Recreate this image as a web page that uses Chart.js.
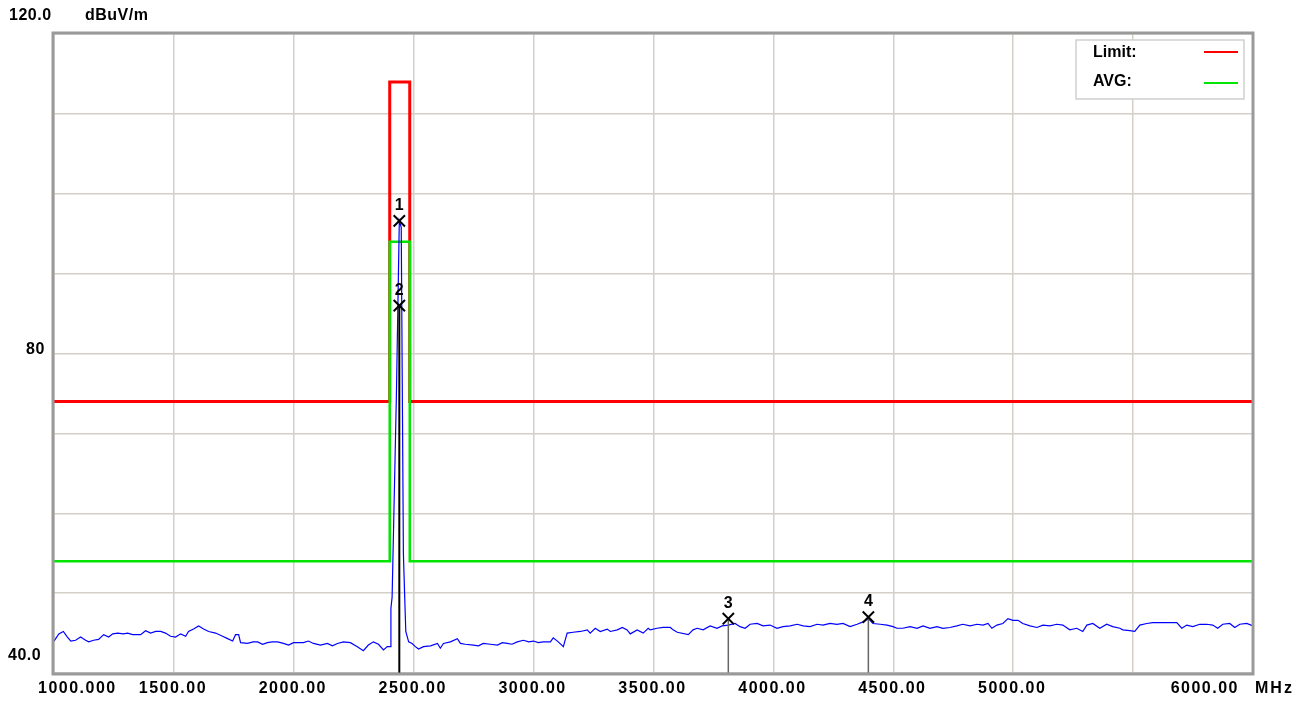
<!DOCTYPE html>
<html>
<head>
<meta charset="utf-8">
<script src="https://cdn.jsdelivr.net/npm/chart.js@4/dist/chart.umd.min.js"></script>
<style>
  html, body { margin: 0; padding: 0; background: #fff; }
  #wrap { width: 1306px; height: 702px; }
</style>
</head>
<body>
<div id="wrap"><canvas id="scan" width="1306" height="702"></canvas></div>
<script>
// measured trace (MHz, dBuV/m)
const freqMHz = [1000,1020,1039,1056,1070,1090,1111,1132,1145,1165,1186,1207,1228,1245,1266,1290,1307,1328,1361,1382,1403,1424,1445,1465,1486,1507,1528,1549,1561,1582,1603,1624,1645,1674,1703,1724,1745,1757,1770,1778,1807,1830,1849,1870,1890,1910,1932,1957,1978,1999,2020,2040,2061,2082,2111,2140,2161,2182,2207,2236,2265,2290,2311,2332,2353,2374,2390,2403,2405,2410,2428,2440,2448,2457,2462,2467,2479,2493,2507,2520,2541,2570,2599,2611,2624,2653,2682,2695,2715,2749,2770,2790,2820,2849,2870,2890,2910,2932,2957,2980,2999,3020,3040,3070,3082,3103,3124,3140,3165,3195,3224,3236,3257,3278,3307,3320,3349,3370,3390,3403,3432,3457,3478,3486,3515,3540,3570,3582,3599,3645,3665,3682,3707,3736,3765,3786,3812,3840,3861,3882,3903,3932,3957,3986,4015,4040,4070,4099,4124,4153,4182,4207,4236,4265,4290,4320,4349,4374,4396,4415,4445,4474,4499,4515,4540,4570,4599,4624,4653,4682,4707,4736,4765,4790,4820,4849,4874,4895,4911,4932,4957,4978,4999,5020,5040,5070,5099,5124,5153,5182,5207,5236,5265,5290,5307,5332,5361,5390,5415,5445,5457,5486,5507,5528,5557,5582,5640,5682,5703,5724,5749,5778,5807,5832,5853,5874,5903,5924,5945,5974,6000];
const levelDb = [44.0,44.9,45.2,44.5,44.0,44.1,44.5,44.1,43.9,44.1,44.2,44.8,44.5,44.9,45.0,44.9,45.0,44.8,44.8,45.3,45.0,45.2,45.2,45.0,44.6,44.5,44.9,44.6,45.2,45.5,45.9,45.5,45.2,45.0,44.6,44.3,44.0,44.8,44.8,43.8,43.7,43.9,43.9,43.6,43.8,43.9,43.9,43.7,43.5,43.8,43.8,43.8,44.0,43.7,43.5,43.7,43.4,43.7,43.9,43.8,43.3,42.8,43.5,43.9,43.6,42.9,43.3,43.3,48.1,49.5,75,96.6,95.8,55,50,45.2,43.9,43.7,43.3,43.0,43.3,43.4,43.7,43.1,43.7,43.9,44.3,43.7,43.6,43.5,43.4,43.7,43.6,43.5,43.8,43.7,43.6,43.9,44.1,43.9,44.0,43.8,43.9,43.9,44.4,43.9,43.3,45.0,45.1,45.2,45.4,45.0,45.6,45.2,45.5,45.2,45.4,45.7,45.4,44.9,45.4,45.0,45.6,45.4,45.6,45.7,45.7,45.4,45.1,44.8,45.4,45.6,45.4,45.9,45.6,45.9,46.0,46.2,45.8,45.6,46.1,46.2,45.9,46.0,45.6,45.8,45.9,46.1,45.9,45.8,46.1,46.0,46.2,46.1,46.2,45.8,46.1,46.4,46.8,46.2,46.1,46.0,45.8,45.6,45.6,45.8,45.6,45.9,45.6,45.8,45.6,45.7,45.9,46.1,45.9,46.1,46.0,46.2,45.6,46.0,46.2,46.8,46.6,46.6,46.2,45.9,45.7,46.0,45.9,46.1,46.0,45.4,45.6,45.2,46.0,46.2,45.6,46.1,45.8,45.6,45.4,45.3,45.2,46.0,46.2,46.3,46.3,46.3,45.6,46.0,45.8,46.1,46.1,46.0,45.6,46.1,46.2,45.7,46.1,46.2,45.9];

// limit lines
const limitFreq = [1000, 2400, 2400, 2483.5, 2483.5, 6000];
const limitDb = [74, 74, 114, 114, 74, 74];
const avgFreq = [1000, 2400, 2400, 2483.5, 2483.5, 6000];
const avgDb = [54, 54, 94, 94, 54, 54];

// markers
const markerNames = ['1', '2', '3', '4'];
const markerFreq = [2440, 2440, 3812, 4396];
const markerDb = [96.6, 86.0, 46.8, 47.0];

// axis labels
const xTickValues = [1000, 1500, 2000, 2500, 3000, 3500, 4000, 4500, 5000, 6000];
const xTickText = ['1000.000', '1500.00', '2000.00', '2500.00', '3000.00', '3500.00', '4000.00', '4500.00', '5000.00', '6000.00'];
const yTickValues = [120, 80, 40];
const yTickText = ['120.0', '80', '40.0'];

const pts = (xs, ys) => xs.map((v, i) => ({x: v, y: ys[i]}));

const dropLines = [];
markerFreq.forEach((f, i) => {
    if (i === 0) return; // marker 1 shares the line of marker 2
    dropLines.push({
        data: [{x: f, y: markerDb[i]}, {x: f, y: 40}],
        borderColor: i < 2 ? '#000' : '#666',
        borderWidth: i < 2 ? 2 : 1.5,
        pointRadius: 0
    });
});

const overlay = {
    id: 'overlay',
    afterDatasetsDraw(chart) {
        const {ctx, chartArea: a, scales: {x, y}} = chart;
        ctx.save();

        // frame
        ctx.strokeStyle = '#9a9a9a';
        ctx.lineWidth = 3;
        ctx.strokeRect(a.left - 1, a.top - 1, a.right - a.left + 1, a.bottom - a.top + 2);

        // marker numbers
        ctx.fillStyle = '#000';
        ctx.font = 'bold 16px "Liberation Sans", Arial, sans-serif';
        ctx.textAlign = 'center';
        ctx.textBaseline = 'middle';
        markerNames.forEach((n, i) => {
            ctx.fillText(n, x.getPixelForValue(markerFreq[i]), y.getPixelForValue(markerDb[i]) - 15);
        });

        // legend
        const lx = a.right - 177, ly = a.top + 6;
        ctx.fillStyle = '#fff';
        ctx.fillRect(lx, ly, 168, 59);
        ctx.strokeStyle = '#cfcfcf';
        ctx.lineWidth = 1.5;
        ctx.strokeRect(lx, ly, 168, 59);
        ctx.font = 'bold 16px "Liberation Sans", Arial, sans-serif';
        ctx.textAlign = 'left';
        [0, 1].forEach(k => {
            const ds = chart.data.datasets[chart.data.datasets.length - 1 - k];
            const ty = ly + 13 + k * 29;
            ctx.fillStyle = '#000';
            ctx.fillText(ds.label + ':', lx + 17, ty);
            ctx.strokeStyle = ds.borderColor;
            ctx.lineWidth = 2;
            ctx.beginPath();
            ctx.moveTo(lx + 128, ty - 1 + k * 2);
            ctx.lineTo(lx + 162, ty - 1 + k * 2);
            ctx.stroke();
        });

        // x tick labels
        ctx.fillStyle = '#000';
        ctx.font = 'bold 16px "Liberation Sans", Arial, sans-serif';
        ctx.letterSpacing = '1.5px';
        const last = xTickValues.length - 1;
        xTickValues.forEach((v, i) => {
            const px = x.getPixelForValue(v);
            if (i === 0) { ctx.textAlign = 'left'; ctx.fillText(xTickText[i], px - 16, 689); }
            else if (i === last) { ctx.textAlign = 'right'; ctx.fillText(xTickText[i], px - 14, 689); }
            else { ctx.textAlign = 'center'; ctx.fillText(xTickText[i], px - 1, 689); }
        });
        ctx.textAlign = 'left';
        ctx.letterSpacing = '2px';
        ctx.fillText('MHz', a.right + 2, 689);

        // y tick labels and unit
        ctx.letterSpacing = '0.5px';
        const yOff = [-18, -4, -17];
        const yLeft = [9, 26, 8];
        yTickValues.forEach((v, i) => {
            ctx.fillText(yTickText[i], yLeft[i], y.getPixelForValue(v) + yOff[i]);
        });
        ctx.fillText('dBuV/m', 85, 16);
        ctx.restore();
    }
};

new Chart(document.getElementById('scan'), {
    type: 'line',
    data: {
        datasets: [
            {
                data: pts(markerFreq, markerDb),
                showLine: false,
                pointStyle: 'crossRot',
                pointRadius: 8,
                pointBorderColor: '#000',
                pointBorderWidth: 2
            },
            ...dropLines,
            {
                data: pts(freqMHz, levelDb),
                borderColor: '#0000ff',
                borderWidth: 1.2,
                pointRadius: 0
            },
            {
                label: 'AVG',
                data: pts(avgFreq, avgDb),
                borderColor: '#00e600',
                borderWidth: 2.5,
                pointRadius: 0
            },
            {
                label: 'Limit',
                data: pts(limitFreq, limitDb),
                borderColor: '#ff0000',
                borderWidth: 3,
                pointRadius: 0
            }
        ]
    },
    options: {
        responsive: false,
        animation: false,
        devicePixelRatio: 1,
        layout: {padding: {top: 34, right: 53, left: 0, bottom: 0}},
        plugins: {legend: {display: false}, tooltip: {enabled: false}},
        elements: {line: {tension: 0}},
        scales: {
            x: {
                type: 'linear',
                min: 1000,
                max: 6000,
                ticks: {stepSize: 500, display: false},
                grid: {color: '#d4d0c8', lineWidth: 1.5, drawTicks: false},
                border: {display: false},
                afterFit: s => { s.height = 29; }
            },
            y: {
                min: 40,
                max: 120,
                ticks: {stepSize: 10, display: false},
                grid: {color: '#d4d0c8', lineWidth: 1.5, drawTicks: false},
                border: {display: false},
                afterFit: s => { s.width = 54; }
            }
        }
    },
    plugins: [overlay]
});
</script>
</body>
</html>
